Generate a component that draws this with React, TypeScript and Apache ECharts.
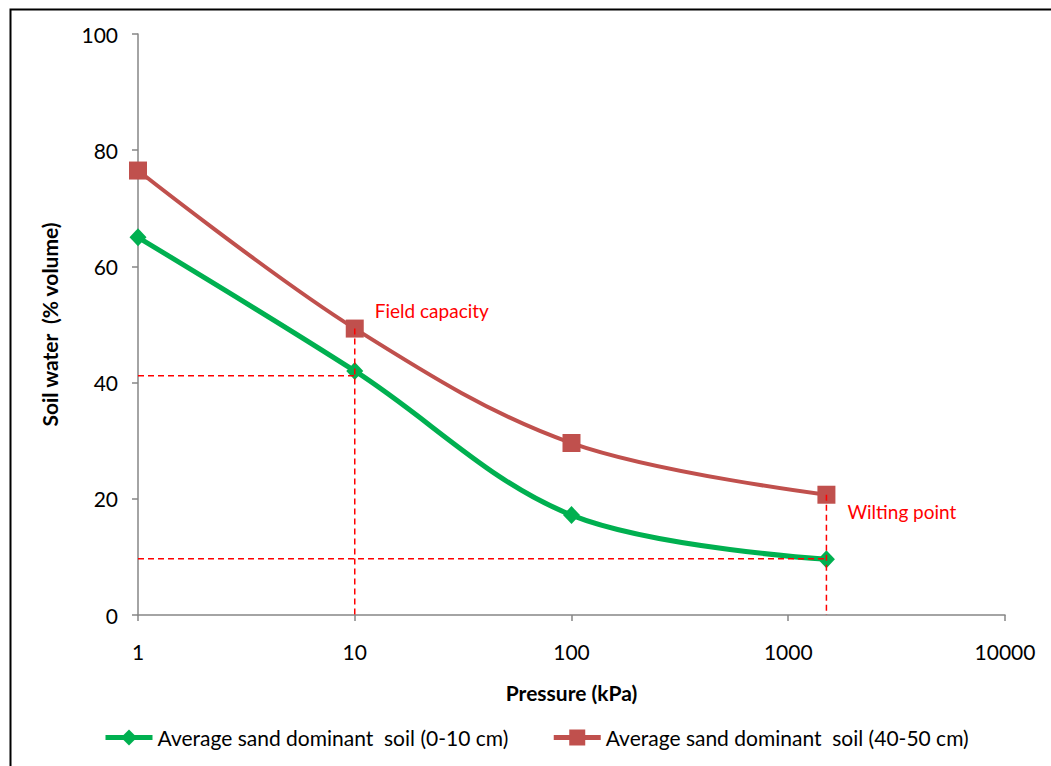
import React, { useEffect, useRef } from "react";
import * as echarts from "echarts";

// Pressure (kPa) at which soil water was measured
const pressures = [1, 10, 100, 1500];
// Soil water (% volume)
const topsoil = [65.0, 42.0, 17.2, 9.6];
const subsoil = [76.5, 49.3, 29.6, 20.7];

const topsoilName = "Average sand dominant  soil (0-10 cm)";
const subsoilName = "Average sand dominant  soil (40-50 cm)";

// Field capacity (10 kPa) and wilting point (1500 kPa) guide values
const fieldCapacityPressure = 10;
const fieldCapacityWater = 41.2;
const wiltingPressure = 1500;
const wiltingWater = 9.7;

const yTicks = [0, 20, 40, 60, 80, 100];

const FONT = "Lato, 'Liberation Sans', sans-serif";
const GREEN = "#00b050";
const RED = "#c0504d";

export default function App() {
  const ref = useRef<HTMLDivElement>(null);

  useEffect(() => {
    if (!ref.current) return;
    const chart = echarts.init(ref.current, undefined, { renderer: "svg" });

    const pairs = (vals: number[]) => pressures.map((p, i) => [p, vals[i]]);

    const dashed = (data: number[][]) => ({
      type: "line",
      data,
      symbol: "none",
      silent: true,
      z: 5,
      lineStyle: { color: "#ff0000", width: 1.5, type: [6, 4] },
    });

    const note = (text: string, offset: number[]) => ({
      show: true,
      formatter: text,
      position: "right",
      offset,
      color: "#ff0000",
      fontFamily: FONT,
      fontSize: 19,
    });

    const subsoilData = pairs(subsoil).map((v, i) => {
      if (pressures[i] === fieldCapacityPressure) {
        return { value: v, label: note("Field capacity", [6, -18]) };
      }
      if (pressures[i] === wiltingPressure) {
        return { value: v, label: note("Wilting point", [7, 17]) };
      }
      return v;
    });

    chart.setOption({
      animation: false,
      backgroundColor: "#ffffff",
      textStyle: { fontFamily: FONT },
      grid: { left: 138, right: 46, top: 34, bottom: 151, containLabel: false },
      graphic: [
        {
          type: "rect",
          left: 8,
          top: 7,
          shape: { width: 1100, height: 800 },
          style: { fill: "none", stroke: "#000000", lineWidth: 2 },
          silent: true,
        },
      ],
      legend: {
        data: [
          { name: topsoilName, lineStyle: { width: 5, color: GREEN } },
          { name: subsoilName, lineStyle: { width: 5, color: RED } },
        ],
        left: 103,
        top: 727,
        padding: 0,
        itemWidth: 47,
        itemHeight: 20,
        itemGap: 43,
        textStyle: { fontFamily: FONT, fontSize: 21, color: "#000000" },
      },
      xAxis: {
        type: "log",
        logBase: 10,
        min: 1,
        max: 10000,
        name: "Pressure (kPa)",
        nameLocation: "middle",
        nameGap: 67,
        nameTextStyle: { fontFamily: FONT, fontSize: 21, fontWeight: "bold", color: "#000000" },
        axisLine: { lineStyle: { color: "#868686", width: 1.5 } },
        axisTick: { show: true, length: 6, lineStyle: { color: "#868686", width: 1.5 } },
        axisLabel: {
          fontFamily: FONT,
          fontSize: 21,
          color: "#000000",
          margin: 26,
          formatter: (v: number) => String(Math.round(v)),
        },
        splitLine: { show: false },
        minorTick: { show: false },
      },
      yAxis: {
        type: "value",
        min: yTicks[0],
        max: yTicks[yTicks.length - 1],
        interval: 20,
        name: "Soil water  (% volume)",
        nameLocation: "middle",
        nameGap: 78,
        nameTextStyle: { fontFamily: FONT, fontSize: 21, fontWeight: "bold", color: "#000000" },
        axisLine: { show: true, lineStyle: { color: "#868686", width: 1.5 } },
        axisTick: { show: true, length: 6, lineStyle: { color: "#868686", width: 1.5 } },
        axisLabel: { fontFamily: FONT, fontSize: 21, color: "#000000", margin: 20 },
        splitLine: { show: false },
      },
      series: [
        {
          name: topsoilName,
          type: "line",
          data: pairs(topsoil),
          smooth: 0.35,
          symbol: "diamond",
          symbolSize: [17, 18],
          color: GREEN,
          lineStyle: { color: GREEN, width: 5 },
          itemStyle: { color: GREEN },
          z: 3,
        },
        {
          name: subsoilName,
          type: "line",
          data: subsoilData,
          smooth: 0.35,
          symbol: "rect",
          symbolSize: 18,
          color: RED,
          lineStyle: { color: RED, width: 4 },
          itemStyle: { color: RED },
          z: 3,
        },
        dashed([
          [pressures[0], fieldCapacityWater],
          [fieldCapacityPressure, fieldCapacityWater],
        ]),
        dashed([
          [fieldCapacityPressure, subsoil[1]],
          [fieldCapacityPressure, 0],
        ]),
        dashed([
          [pressures[0], wiltingWater],
          [wiltingPressure, wiltingWater],
        ]),
        dashed([
          [wiltingPressure, subsoil[3]],
          [wiltingPressure, 0],
        ]),
      ],
    });

    return () => chart.dispose();
  }, []);

  return (
    <div
      ref={ref}
      style={{ position: "absolute", left: 0, top: 0, width: 1051, height: 766 }}
    />
  );
}
